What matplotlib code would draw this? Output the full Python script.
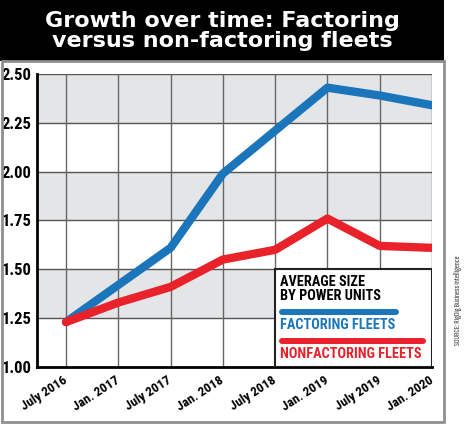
import matplotlib
matplotlib.use("Agg")
import matplotlib.pyplot as plt
from matplotlib.patches import Rectangle
from matplotlib.lines import Line2D
from matplotlib.transforms import ScaledTranslation

periods = ["July 2016", "Jan. 2017", "July 2017", "Jan. 2018",
           "July 2018", "Jan. 2019", "July 2019", "Jan. 2020"]
factoring = [1.23, 1.42, 1.61, 1.99, 2.21, 2.43, 2.39, 2.34]
nonfactoring = [1.23, 1.33, 1.41, 1.55, 1.60, 1.76, 1.62, 1.61]
y_ticks = [1.00, 1.25, 1.50, 1.75, 2.00, 2.25, 2.50]

BLUE = "#1b75bb"
RED = "#e8212b"
COND = ["Roboto Condensed", "DejaVu Sans"]
XCOND = ["Sofia Sans Extra Condensed", "Roboto Condensed", "DejaVu Sans"]
W, H = 474, 425

fig = plt.figure(figsize=(W / 100, H / 100), dpi=100)

# title band and grey frame
fig.patches.append(Rectangle((0, 1 - 61 / H), 444 / W, 61 / H,
                             transform=fig.transFigure, facecolor="black",
                             edgecolor="none", zorder=0))
fig.patches.append(Rectangle((2 / W, 3 / H), 442 / W, 361 / H,
                             transform=fig.transFigure, facecolor="none",
                             edgecolor="#8f8f8f", lw=2, zorder=0))
fig.text(222 / W, 1 - 31 / H, "Growth over time: Factoring\nversus non-factoring fleets",
         color="white", ha="center", va="center", fontsize=16, fontweight="bold",
         linespacing=1.05, family="DejaVu Sans")

ax = fig.add_axes([37 / W, 58 / H, 395 / W, 293 / H])
x = list(range(len(periods)))
ax.set_xlim(-0.555, 7)
ax.set_ylim(1.0, 2.5)

# alternating bands + grid
for lo in [1.25, 1.75, 2.25]:
    ax.axhspan(lo, lo + 0.25, color="#e4e5e7", zorder=0, lw=0)
for yv in y_ticks[1:]:
    ax.axhline(yv, color="#555555", lw=1, zorder=1)
for xv in x:
    ax.axvline(xv, color="#666666", lw=1, zorder=1)

ax.plot(x, factoring, color=BLUE, lw=6, solid_capstyle="round", zorder=3)
ax.plot(x, nonfactoring, color=RED, lw=6, solid_capstyle="round", zorder=3)

ax.set_yticks(y_ticks)
ax.set_yticklabels([f"{v:.2f}" for v in y_ticks], fontsize=12, fontweight="bold",
                   family=COND)
ax.set_xticks(x)
ax.set_xticklabels(periods, rotation=33, ha="right", va="center", rotation_mode="anchor",
                   fontsize=9.5, fontweight="bold", family=COND)
shift = ScaledTranslation(5 / 100, 0, fig.dpi_scale_trans)
for lab in ax.get_xticklabels():
    lab.set_transform(lab.get_transform() + shift)
ax.tick_params(axis="both", length=0)
ax.tick_params(axis="y", pad=4)
ax.tick_params(axis="x", pad=9)
for s in ["top", "right"]:
    ax.spines[s].set_visible(False)
for s in ["left", "bottom"]:
    ax.spines[s].set_linewidth(2)
    ax.spines[s].set_zorder(4)


# legend box, placed in pixel positions of the reference
def ay(py):
    return (367 - py) / 293


def axx(px):
    return (px - 37) / 395


ax.add_patch(Rectangle((axx(275), 0), 1 - axx(275), ay(269), transform=ax.transAxes,
                       facecolor="white", edgecolor="#222222", lw=1.5, zorder=5))
tx = axx(280)
legend_rows = [
    ("AVERAGE SIZE", 282, "black"),
    ("BY POWER UNITS", 296, "black"),
    ("FACTORING FLEETS", 325, BLUE),
    ("NONFACTORING FLEETS", 354, RED),
]
for txt, py, col in legend_rows:
    ax.text(tx, ay(py), txt, transform=ax.transAxes, va="center", color=col,
            fontsize=10.3, fontweight="bold", family=COND, zorder=6)
ax.add_line(Line2D([axx(282), axx(396)], [ay(312), ay(312)], transform=ax.transAxes,
                   color=BLUE, lw=4.3, solid_capstyle="round", zorder=6))
ax.add_line(Line2D([axx(282), axx(423)], [ay(341), ay(341)], transform=ax.transAxes,
                   color=RED, lw=4.3, solid_capstyle="round", zorder=6))

fig.text(458 / W, 1 - 300 / H, "SOURCE: RigDig Business Intelligence",
         rotation=90, ha="center", va="center", fontsize=6.3, color="#333333",
         family=XCOND)

fig.savefig("out.png", dpi=100)
